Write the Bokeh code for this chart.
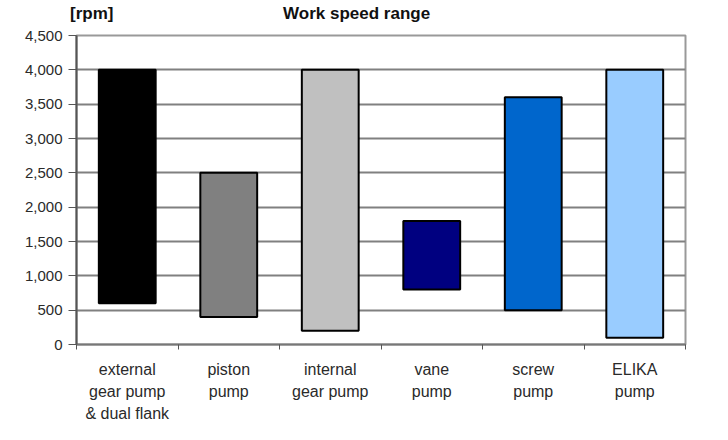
from bokeh.plotting import figure
from bokeh.models import ColumnDataSource, FixedTicker, NumeralTickFormatter, Range1d, LinearAxis
from bokeh.embed import file_html
from bokeh.resources import INLINE

categories = ["external\ngear pump\n& dual flank", "piston\npump", "internal\ngear pump",
              "vane\npump", "screw\npump", "ELIKA\npump"]
rpm_min = [600, 400, 200, 800, 500, 100]
rpm_max = [4000, 2500, 4000, 1800, 3600, 4000]
colors = ["#000000", "#808080", "#C0C0C0", "#000080", "#0066CC", "#99CCFF"]
y_ticks = [0, 500, 1000, 1500, 2000, 2500, 3000, 3500, 4000, 4500]
title_text = "Work speed range"
unit_text = "[rpm]"

xpos = [i + 0.5 for i in range(len(categories))]
src = ColumnDataSource(dict(x=xpos, bottom=rpm_min, top=rpm_max, color=colors))

p = figure(width=712, height=424, output_backend="svg", toolbar_location=None,
           x_range=Range1d(0, len(categories)), y_range=Range1d(0, 4500),
           min_border_left=76, min_border_right=27, min_border_top=35, min_border_bottom=75)

p.vbar(x="x", bottom="bottom", top="top", width=0.56, fill_color="color",
       line_color="#000000", line_width=2, source=src)

# grid
p.xgrid.visible = False
p.ygrid.ticker = FixedTicker(ticks=y_ticks)
p.ygrid.grid_line_color = "#808080"
p.ygrid.grid_line_width = 2
p.outline_line_color = "#999999"
p.outline_line_width = 2

# y axis
p.yaxis.ticker = FixedTicker(ticks=y_ticks)
p.yaxis.formatter = NumeralTickFormatter(format="0,0")
p.yaxis.major_label_text_font = "Liberation Sans"
p.yaxis.major_label_text_font_size = "15px"
p.yaxis.major_label_text_color = "#2a2a2a"
p.yaxis.axis_line_color = "#555555"
p.yaxis.axis_line_width = 2
p.yaxis.major_tick_line_color = "#555555"
p.yaxis.major_tick_in = 0
p.yaxis.major_tick_out = 8
p.yaxis.minor_tick_line_color = None
p.yaxis.major_label_standoff = 6

# x axis
p.xaxis.ticker = FixedTicker(ticks=xpos, minor_ticks=list(range(len(categories) + 1)))
p.xaxis.major_label_overrides = {x: c for x, c in zip(xpos, categories)}
p.xaxis.major_label_text_font = "Liberation Sans"
p.xaxis.major_label_text_font_size = "16px"
p.xaxis.major_label_text_line_height = 1.3
p.xaxis.major_label_text_color = "#2a2a2a"
p.xaxis.major_tick_line_color = None
p.xaxis.minor_tick_line_color = "#555555"
p.xaxis.minor_tick_in = 0
p.xaxis.minor_tick_out = 5
p.xaxis.axis_line_color = "#777777"
p.xaxis.axis_line_width = 2
p.xaxis.major_label_standoff = 10

# top "axis" carrying the unit label and the chart title on one row
unit_x = 0.15
title_x = 2.76
top_axis = LinearAxis(ticker=FixedTicker(ticks=[unit_x, title_x]),
                      major_label_overrides={unit_x: unit_text, title_x: title_text},
                      axis_line_color=None, major_tick_line_color=None,
                      minor_tick_line_color=None,
                      major_label_text_font="Liberation Sans",
                      major_label_text_font_size="17px",
                      major_label_text_font_style="bold",
                      major_label_text_color="#111111",
                      major_label_standoff=7)
p.add_layout(top_axis, "above")

open("out.html", "w").write(file_html(p, INLINE))
